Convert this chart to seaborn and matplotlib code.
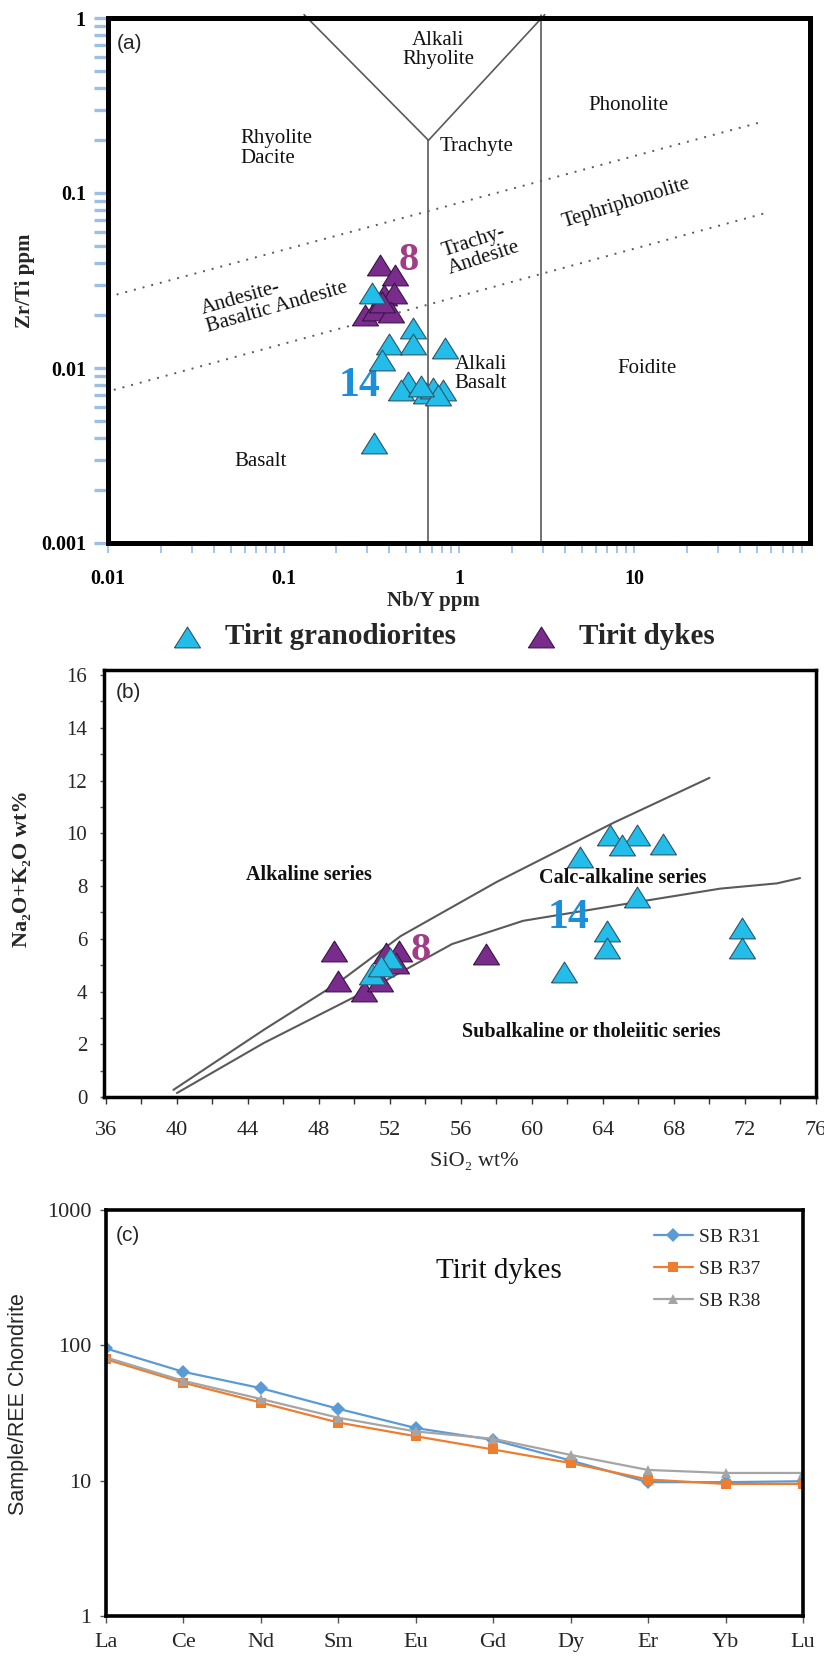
import numpy as np
import pandas as pd
import matplotlib
matplotlib.use('Agg')
import matplotlib.pyplot as plt
import seaborn as sns
from matplotlib.ticker import FixedLocator, NullLocator, LogLocator, MultipleLocator, NullFormatter
from matplotlib.font_manager import FontProperties

# ---------------- data: panel (a) Nb/Y vs Zr/Ti ----------------
gran_nby = [0.320, 0.544, 0.400, 0.544, 0.366, 0.828, 0.509, 0.466, 0.650, 0.709, 0.809, 0.757, 0.329, 0.605]
gran_zrti = [0.0267, 0.0169, 0.0138, 0.0138, 0.0111, 0.0130, 0.00835, 0.00749, 0.00717, 0.00769, 0.00749, 0.00701, 0.00373, 0.00789]
dyke_nby = [0.353, 0.432, 0.374, 0.427, 0.293, 0.334, 0.408, 0.366]
dyke_zrti = [0.0388, 0.0340, 0.0261, 0.0267, 0.0201, 0.0214, 0.0210, 0.0238]

tri_left_x, tri_left_y = [0.131, 0.67], [1.045, 0.2]
tri_right_x, tri_right_y = [0.67, 3.08], [0.2, 1.045]
vert1_x, vert1_y = [0.67, 0.67], [0.2, 0.001]
vert2_x, vert2_y = [2.95, 2.95], [1.045, 0.001]
dot_up_x, dot_up_y = [0.01, 51.0], [0.0255, 0.252]
dot_lo_x, dot_lo_y = [0.0108, 56.4], [0.0075, 0.077]

a_xticks = [0.01, 0.1, 1, 10]
a_xlabels = ['0.01', '0.1', '1', '10']
a_yticks = [0.001, 0.01, 0.1, 1]
a_ylabels = ['0.001', '0.01', '0.1', '1']

# ---------------- data: panel (b) TAS ----------------
gran_sio2 = [64.4, 65.9, 65.05, 67.36, 62.7, 65.9, 64.2, 64.2, 61.8, 71.84, 71.84, 51.0, 52.0, 51.5]
gran_alk = [9.92, 9.92, 9.54, 9.6, 9.09, 7.57, 6.3, 5.66, 4.74, 6.39, 5.66, 4.65, 5.28, 4.95]
dyke_sio2 = [48.84, 49.07, 50.56, 51.46, 51.75, 52.5, 52.35, 57.4]
dyke_alk = [5.54, 4.39, 4.01, 4.39, 5.47, 5.54, 5.09, 5.41]

alk_upper_x = [39.8, 44.9, 49.1, 52.6, 58.0, 64.6, 70.0]
alk_upper_y = [0.27, 2.55, 4.34, 6.1, 8.15, 10.4, 12.1]
alk_lower_x = [40.0, 44.9, 50.9, 55.5, 59.5, 66.0, 70.6, 73.8, 75.1]
alk_lower_y = [0.15, 2.05, 4.1, 5.8, 6.68, 7.4, 7.9, 8.1, 8.3]

# ---------------- data: panel (c) REE ----------------
ree = ['La', 'Ce', 'Nd', 'Sm', 'Eu', 'Gd', 'Dy', 'Er', 'Yb', 'Lu']
r31 = [95, 63.8, 48.3, 34.0, 24.5, 20.0, 14.1, 9.75, 9.75, 9.9]
r37 = [79, 53, 37.8, 26.9, 21.3, 17.0, 13.5, 10.2, 9.46, 9.46]
r38 = [81.6, 54.7, 40.2, 29.2, 23.1, 20.4, 15.5, 12.0, 11.4, 11.4]
samples = ['SB R31', 'SB R37', 'SB R38']
c_yticks = [1, 10, 100, 1000]
c_ylabels = ['1', '10', '100', '1000']

# ---------------- styling ----------------
sns.set_theme(style='white')
plt.rcParams['font.family'] = ['Liberation Serif', 'DejaVu Serif']
SERIF = ['Liberation Serif', 'DejaVu Serif']
SANS = ['Liberation Sans', 'DejaVu Sans']
CYAN = '#22bde9'
CYAN_E = '#2f5568'
PURP = '#7a2c8c'
PURP_E = '#3a1445'
LINEC = '#5a5a5a'
TICKBLUE = '#9cbfe6'
tri = [(-1, -0.8), (1, -0.8), (0, 0.8), (-1, -0.8)]
MS = 350

fig = plt.figure(figsize=(8.24, 16.6), dpi=100)
W, H = 824.0, 1660.0


def box(l, t, r, b):
    return [l / W, 1 - b / H, (r - l) / W, (b - t) / H]


axA = fig.add_axes(box(108, 18, 810, 543))
axB = fig.add_axes(box(104, 670, 816, 1097))
axC = fig.add_axes(box(105.6, 1210, 803, 1616))

# ================= Panel (a) =================
axA.set_xscale('log')
axA.set_yscale('log')
axA.set_xlim(0.01, 100)
axA.set_ylim(0.001, 1)
for xs, ys in [(tri_left_x, tri_left_y), (tri_right_x, tri_right_y),
               (vert1_x, vert1_y), (vert2_x, vert2_y)]:
    axA.plot(xs, ys, color=LINEC, lw=1.2, zorder=1, clip_on=False)
for xs, ys in [(dot_up_x, dot_up_y), (dot_lo_x, dot_lo_y)]:
    axA.plot(xs, ys, color=LINEC, lw=1.4, linestyle=(0, (1, 3.6)), zorder=1)

sns.scatterplot(x=dyke_nby, y=dyke_zrti, marker=tri, s=MS, color=PURP, edgecolor=PURP_E,
                linewidth=0.8, ax=axA, label='Tirit dykes', legend=False, zorder=3)
sns.scatterplot(x=gran_nby, y=gran_zrti, marker=tri, s=MS, color=CYAN, edgecolor=CYAN_E,
                linewidth=0.8, ax=axA, label='Tirit granodiorites', legend=False, zorder=4)

axA.xaxis.set_major_locator(FixedLocator(a_xticks))
axA.set_xticklabels(a_xlabels, fontweight='bold', fontsize=14.5, family=SERIF)
axA.yaxis.set_major_locator(FixedLocator(a_yticks))
axA.set_yticklabels(a_ylabels, fontweight='bold', fontsize=14.5, family=SERIF)
axA.xaxis.set_minor_locator(LogLocator(base=10, subs=np.arange(2, 10)))
axA.yaxis.set_minor_locator(LogLocator(base=10, subs=np.arange(2, 10)))
axA.xaxis.set_minor_formatter(NullFormatter())
axA.yaxis.set_minor_formatter(NullFormatter())
axA.tick_params(axis='y', which='both', direction='out', length=10, width=2.4,
                color=TICKBLUE, labelcolor='black', pad=6, left=True)
axA.tick_params(axis='x', which='both', direction='out', length=7, width=1.3,
                color=TICKBLUE, labelcolor='black', pad=12, bottom=True)
for sp in axA.spines.values():
    sp.set_linewidth(3.6)
    sp.set_color('black')
    sp.set_zorder(5)
axA.set_xlabel('Nb/Y ppm', fontweight='bold', fontsize=15, family=SERIF)
axA.xaxis.set_label_coords(0.463, -0.092)
axA.set_ylabel('Zr/Ti ppm', fontweight='bold', fontsize=15, family=SERIF)
axA.yaxis.set_label_coords(-0.104, 0.5)

tA = dict(transform=axA.transAxes, family=SERIF, fontsize=15, color='#111111')
axA.text(0.013, 0.952, '(a)', transform=axA.transAxes, family=SANS, fontsize=15, ha='left', va='center')
axA.text(0.470, 0.939, 'Alkali\nRhyolite', ha='center', va='center', linespacing=1.05, **tA)
axA.text(0.742, 0.834, 'Phonolite', ha='center', va='center', **tA)
axA.text(0.188, 0.752, 'Rhyolite\nDacite', ha='left', va='center', linespacing=1.05, **tA)
axA.text(0.473, 0.756, 'Trachyte', ha='left', va='center', **tA)
axA.text(0.738, 0.648, 'Tephriphonolite', ha='center', va='center', rotation=17.3,
         rotation_mode='anchor', **tA)
axA.text(0.531, 0.560, 'Trachy-\nAndesite', ha='center', va='center', rotation=18,
         rotation_mode='anchor', multialignment='left', linespacing=1.0, **tA)
axA.text(0.237, 0.465, 'Andesite-\nBasaltic Andesite', ha='center', va='center', rotation=16,
         rotation_mode='anchor', multialignment='left', linespacing=1.0, **tA)
axA.text(0.494, 0.322, 'Alkali\nBasalt', ha='left', va='center', linespacing=1.05, **tA)
axA.text(0.768, 0.333, 'Foidite', ha='center', va='center', **tA)
axA.text(0.218, 0.156, 'Basalt', ha='center', va='center', **tA)
axA.text(0.429, 0.539, '8', transform=axA.transAxes, family=SERIF, fontsize=29, fontweight='bold',
         color='#a03d86', ha='center', va='center')
axA.text(0.358, 0.299, '14', transform=axA.transAxes, family=SERIF, fontsize=30, fontweight='bold',
         color='#1b8fd8', ha='center', va='center')

# shared legend between (a) and (b)
hA, lA = axA.get_legend_handles_labels()
order = [lA.index('Tirit granodiorites'), lA.index('Tirit dykes')]
fig.legend([hA[i] for i in order], [lA[i] for i in order], loc='center',
           bbox_to_anchor=(0.5346, 0.6163), ncol=2, frameon=False,
           prop=FontProperties(family=SERIF, weight='bold', size=21),
           handlelength=1.4, handletextpad=0.6, columnspacing=2.2, scatterpoints=1)

# ================= Panel (b) =================
axB.set_xlim(35.89, 76)
axB.set_ylim(0, 16.19)
axB.plot(alk_upper_x, alk_upper_y, color=LINEC, lw=1.5, zorder=1)
axB.plot(alk_lower_x, alk_lower_y, color=LINEC, lw=1.5, zorder=1)
sns.scatterplot(x=dyke_sio2, y=dyke_alk, marker=tri, s=MS, color=PURP, edgecolor=PURP_E,
                linewidth=0.8, ax=axB, legend=False, zorder=3)
sns.scatterplot(x=gran_sio2, y=gran_alk, marker=tri, s=MS, color=CYAN, edgecolor=CYAN_E,
                linewidth=0.8, ax=axB, legend=False, zorder=4)
axB.xaxis.set_major_locator(MultipleLocator(4))
axB.xaxis.set_minor_locator(MultipleLocator(2))
axB.yaxis.set_major_locator(MultipleLocator(2))
axB.yaxis.set_minor_locator(MultipleLocator(1))
axB.set_xticks(np.arange(36, 77, 4))
axB.tick_params(axis='x', which='both', direction='out', length=5, width=1.0, color='#333333',
                pad=12, labelsize=16, bottom=True)
axB.tick_params(axis='y', which='both', direction='out', length=3, width=1.0, color='#555555',
                pad=9, labelsize=15, left=True)
for sp in axB.spines.values():
    sp.set_linewidth(2.5)
    sp.set_color('black')
axB.set_xlabel('SiO₂ wt%', fontsize=16, family=SERIF)
axB.xaxis.set_label_coords(0.520, -0.128)
axB.set_ylabel('Na₂O+K₂O wt%', fontsize=16, fontweight='bold', family=SERIF)
axB.yaxis.set_label_coords(-0.101, 0.536)
tB = dict(transform=axB.transAxes, family=SERIF, fontsize=14.5, fontweight='bold',
          ha='center', va='center', color='#111111')
axB.text(0.017, 0.948, '(b)', transform=axB.transAxes, family=SANS, fontsize=15, ha='left', va='center')
axB.text(0.288, 0.520, 'Alkaline series', **tB)
axB.text(0.729, 0.513, 'Calc-alkaline series', **tB)
axB.text(0.685, 0.152, 'Subalkaline or tholeiitic series', **tB)
axB.text(0.445, 0.344, '8', transform=axB.transAxes, family=SERIF, fontsize=29, fontweight='bold',
         color='#a03d86', ha='center', va='center')
axB.text(0.652, 0.419, '14', transform=axB.transAxes, family=SERIF, fontsize=30, fontweight='bold',
         color='#1b8fd8', ha='center', va='center')

# ================= Panel (c) =================
df = pd.DataFrame({
    'REE': ree * 3,
    'value': r31 + r37 + r38,
    'sample': [samples[0]] * len(ree) + [samples[1]] * len(ree) + [samples[2]] * len(ree),
})
pal = {'SB R31': '#5b9bd5', 'SB R37': '#ed7d31', 'SB R38': '#a5a5a5'}
mk = {'SB R31': 'D', 'SB R37': 's', 'SB R38': '^'}
axC.set_yscale('log')
sns.lineplot(data=df, x='REE', y='value', hue='sample', style='sample', palette=pal,
             markers=mk, dashes=False, sort=False, lw=1.6, markersize=7.5,
             markeredgewidth=0, ax=axC)
axC.set_xlim(0, len(ree) - 1)
axC.set_ylim(1, 1000)
axC.yaxis.set_major_locator(FixedLocator(c_yticks))
axC.set_yticklabels(c_ylabels, fontsize=16, family=SERIF)
axC.yaxis.set_minor_locator(NullLocator())
axC.tick_params(axis='x', which='both', direction='out', length=5, width=1.0, color='#555555',
                pad=7, labelsize=16, bottom=True)
axC.tick_params(axis='y', which='both', direction='out', length=4, width=1.0, color='#555555',
                pad=6, left=True)
for sp in axC.spines.values():
    sp.set_linewidth(2.6)
    sp.set_color('black')
axC.set_xlabel('')
axC.set_ylabel('Sample/REE Chondrite', fontsize=15.5, family=SANS)
axC.yaxis.set_label_coords(-0.110, 0.522)
hC, lC = axC.get_legend_handles_labels()
axC.legend(hC, lC, loc='upper left', bbox_to_anchor=(0.775, 0.975), frameon=False,
           prop=FontProperties(family=SERIF, size=14), handlelength=2.0, handletextpad=0.3,
           labelspacing=0.75, borderaxespad=0)
axC.text(0.015, 0.936, '(c)', transform=axC.transAxes, family=SANS, fontsize=15, ha='left', va='center')
axC.text(0.564, 0.850, 'Tirit dykes', transform=axC.transAxes, family=SERIF, fontsize=21,
         ha='center', va='center', color='#111111')

fig.savefig('out.png', dpi=100)
